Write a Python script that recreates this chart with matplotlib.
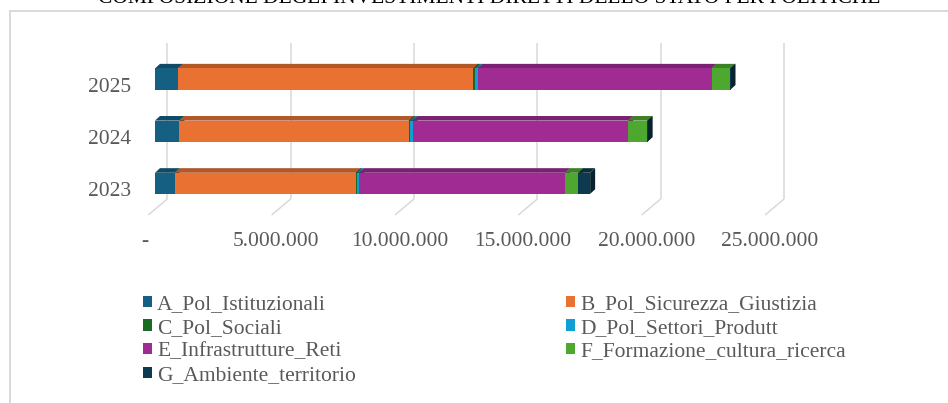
import matplotlib
matplotlib.use("Agg")
import matplotlib.pyplot as plt
from matplotlib.patches import Polygon, Rectangle, Patch
from matplotlib import transforms
import numpy as np

# ---------------- data ----------------
years = ["2023", "2024", "2025"]
series_names = ["A_Pol_Istituzionali", "B_Pol_Sicurezza_Giustizia", "C_Pol_Sociali",
                "D_Pol_Settori_Produtt", "E_Infrastrutture_Reti",
                "F_Formazione_cultura_ricerca", "G_Ambiente_territorio"]
A_vals = [800000, 990000, 930000]
B_vals = [7330000, 9290000, 11960000]
C_vals = [50000, 60000, 80000]
D_vals = [100000, 100000, 110000]
E_vals = [8340000, 8740000, 9480000]
F_vals = [530000, 770000, 740000]
G_vals = [490000, 20000, 30000]
x_ticks = [0, 5000000, 10000000, 15000000, 20000000, 25000000]
x_tick_labels = ["-", "5.000.000", "10.000.000", "15.000.000", "20.000.000", "25.000.000"]
title = "COMPOSIZIONE DEGLI INVESTIMENTI DIRETTI DELLO STATO PER POLITICHE"
colors = ["#156082", "#E97132", "#196B24", "#0F9ED5", "#A02B93", "#4EA72E", "#0D3A4E"]

series = [A_vals, B_vals, C_vals, D_vals, E_vals, F_vals, G_vals]

plt.rcParams['font.family'] = ['Liberation Serif', 'DejaVu Serif']
TXT = '#595959'
GRID = '#d9d9d9'
FS = 15.5

W, H = 948, 403
fig = plt.figure(figsize=(W / 100, H / 100), dpi=100)


def px_rect(left, top, width, height):
    return [left / W, 1 - (top + height) / H, width / W, height / H]


# chart area border
fig.patches.append(Rectangle((10 / W, -0.05), 1.2, 1 - 10.7 / H + 0.05, transform=fig.transFigure,
                             fill=False, edgecolor=GRID, linewidth=1.4))

# title (partly cut at the top, as in the reference)
fig.text(489.5 / W, 1 - 3.2 / H, title, ha='center', va='baseline', fontsize=FS, color='#000000')

ax = fig.add_axes(px_rect(145.1, 52.95, 641.4, 156.45))
ax.set_xlim(-0.4e6, 25.6e6)
ax.set_ylim(-0.5, 2.5)
for s in ax.spines.values():
    s.set_visible(False)
ax.patch.set_visible(False)

# pixel -> data scale from the axes transform
p0 = ax.transData.transform((0, 0))
p1 = ax.transData.transform((1e6, 1))
sx = (p1[0] - p0[0]) / 1e6
sy = (p1[1] - p0[1])

back = (12.3 / sx, 10.4 / sy)
front = (-6.7 / sx, -5.6 / sy)
depth = (5.0 / sx, 4.6 / sy)

# gridlines on back wall and floor diagonals
for v in x_ticks:
    ax.plot([v + back[0], v + back[0]], [-0.5 + back[1], 2.5 + back[1]],
            color=GRID, lw=1.1, zorder=1, clip_on=False, solid_capstyle='butt')
    ax.plot([v + back[0], v + front[0]], [-0.5 + back[1], -0.5 + front[1]],
            color=GRID, lw=1.1, zorder=1, clip_on=False, solid_capstyle='butt')


def shade(c, f):
    r, g, b = matplotlib.colors.to_rgb(c)
    return (r * f, g * f, b * f)


bh = 0.405
ypos = np.arange(len(years))
lefts = np.zeros(len(years))
z = 2.0
for k, vals in enumerate(series):
    vals = np.array(vals, dtype=float)
    ax.barh(ypos, vals, left=lefts, height=bh, color=colors[k], zorder=10, linewidth=0)
    for i in range(len(years)):
        l = lefts[i]
        r = l + vals[i]
        yb = ypos[i] - bh / 2
        yt = ypos[i] + bh / 2
        side = Polygon([(r, yb), (r, yt), (r + depth[0], yt + depth[1]), (r + depth[0], yb + depth[1])],
                       closed=True, facecolor=shade(colors[k], 0.6), edgecolor='none', zorder=z)
        z += 0.001
        top = Polygon([(l, yt), (r, yt), (r + depth[0], yt + depth[1]), (l + depth[0], yt + depth[1])],
                      closed=True, facecolor=shade(colors[k], 0.77), edgecolor='none', zorder=z)
        z += 0.001
        ax.add_patch(side)
        ax.add_patch(top)
    lefts = lefts + vals

# y tick labels
ax.set_yticks(ypos, labels=years)
ax.tick_params(axis='y', length=0, pad=10, labelsize=FS, labelcolor=TXT)
for lab in ax.get_yticklabels():
    lab.set_transform(lab.get_transform() + transforms.ScaledTranslation(0, -5.5 / 100, fig.dpi_scale_trans))

# x tick labels
ax.set_xticks(x_ticks, labels=x_tick_labels)
ax.tick_params(axis='x', length=0, pad=16.5, labelsize=FS, labelcolor=TXT)
for j, lab in enumerate(ax.get_xticklabels()):
    dxp = -10 if j == 0 else -2
    lab.set_transform(lab.get_transform() + transforms.ScaledTranslation(dxp / 100, 0, fig.dpi_scale_trans))

# legend (Excel fills row-wise: reorder for matplotlib column-wise fill)
handles = [Patch(facecolor=colors[k], edgecolor='none', label=series_names[k]) for k in range(7)]
order = [0, 2, 4, 6, 1, 3, 5]
leg = fig.legend([handles[k] for k in order], [series_names[k] for k in order],
                 loc='upper left', bbox_to_anchor=(142.5 / W, 1 - 295 / H), ncol=2, frameon=False,
                 fontsize=FS, handlelength=0.43, handleheight=0.43, handletextpad=0.25,
                 columnspacing=9.75, labelspacing=0.22, borderaxespad=0, borderpad=0,
                 labelcolor=TXT)

fig.savefig("out.png", dpi=100)
